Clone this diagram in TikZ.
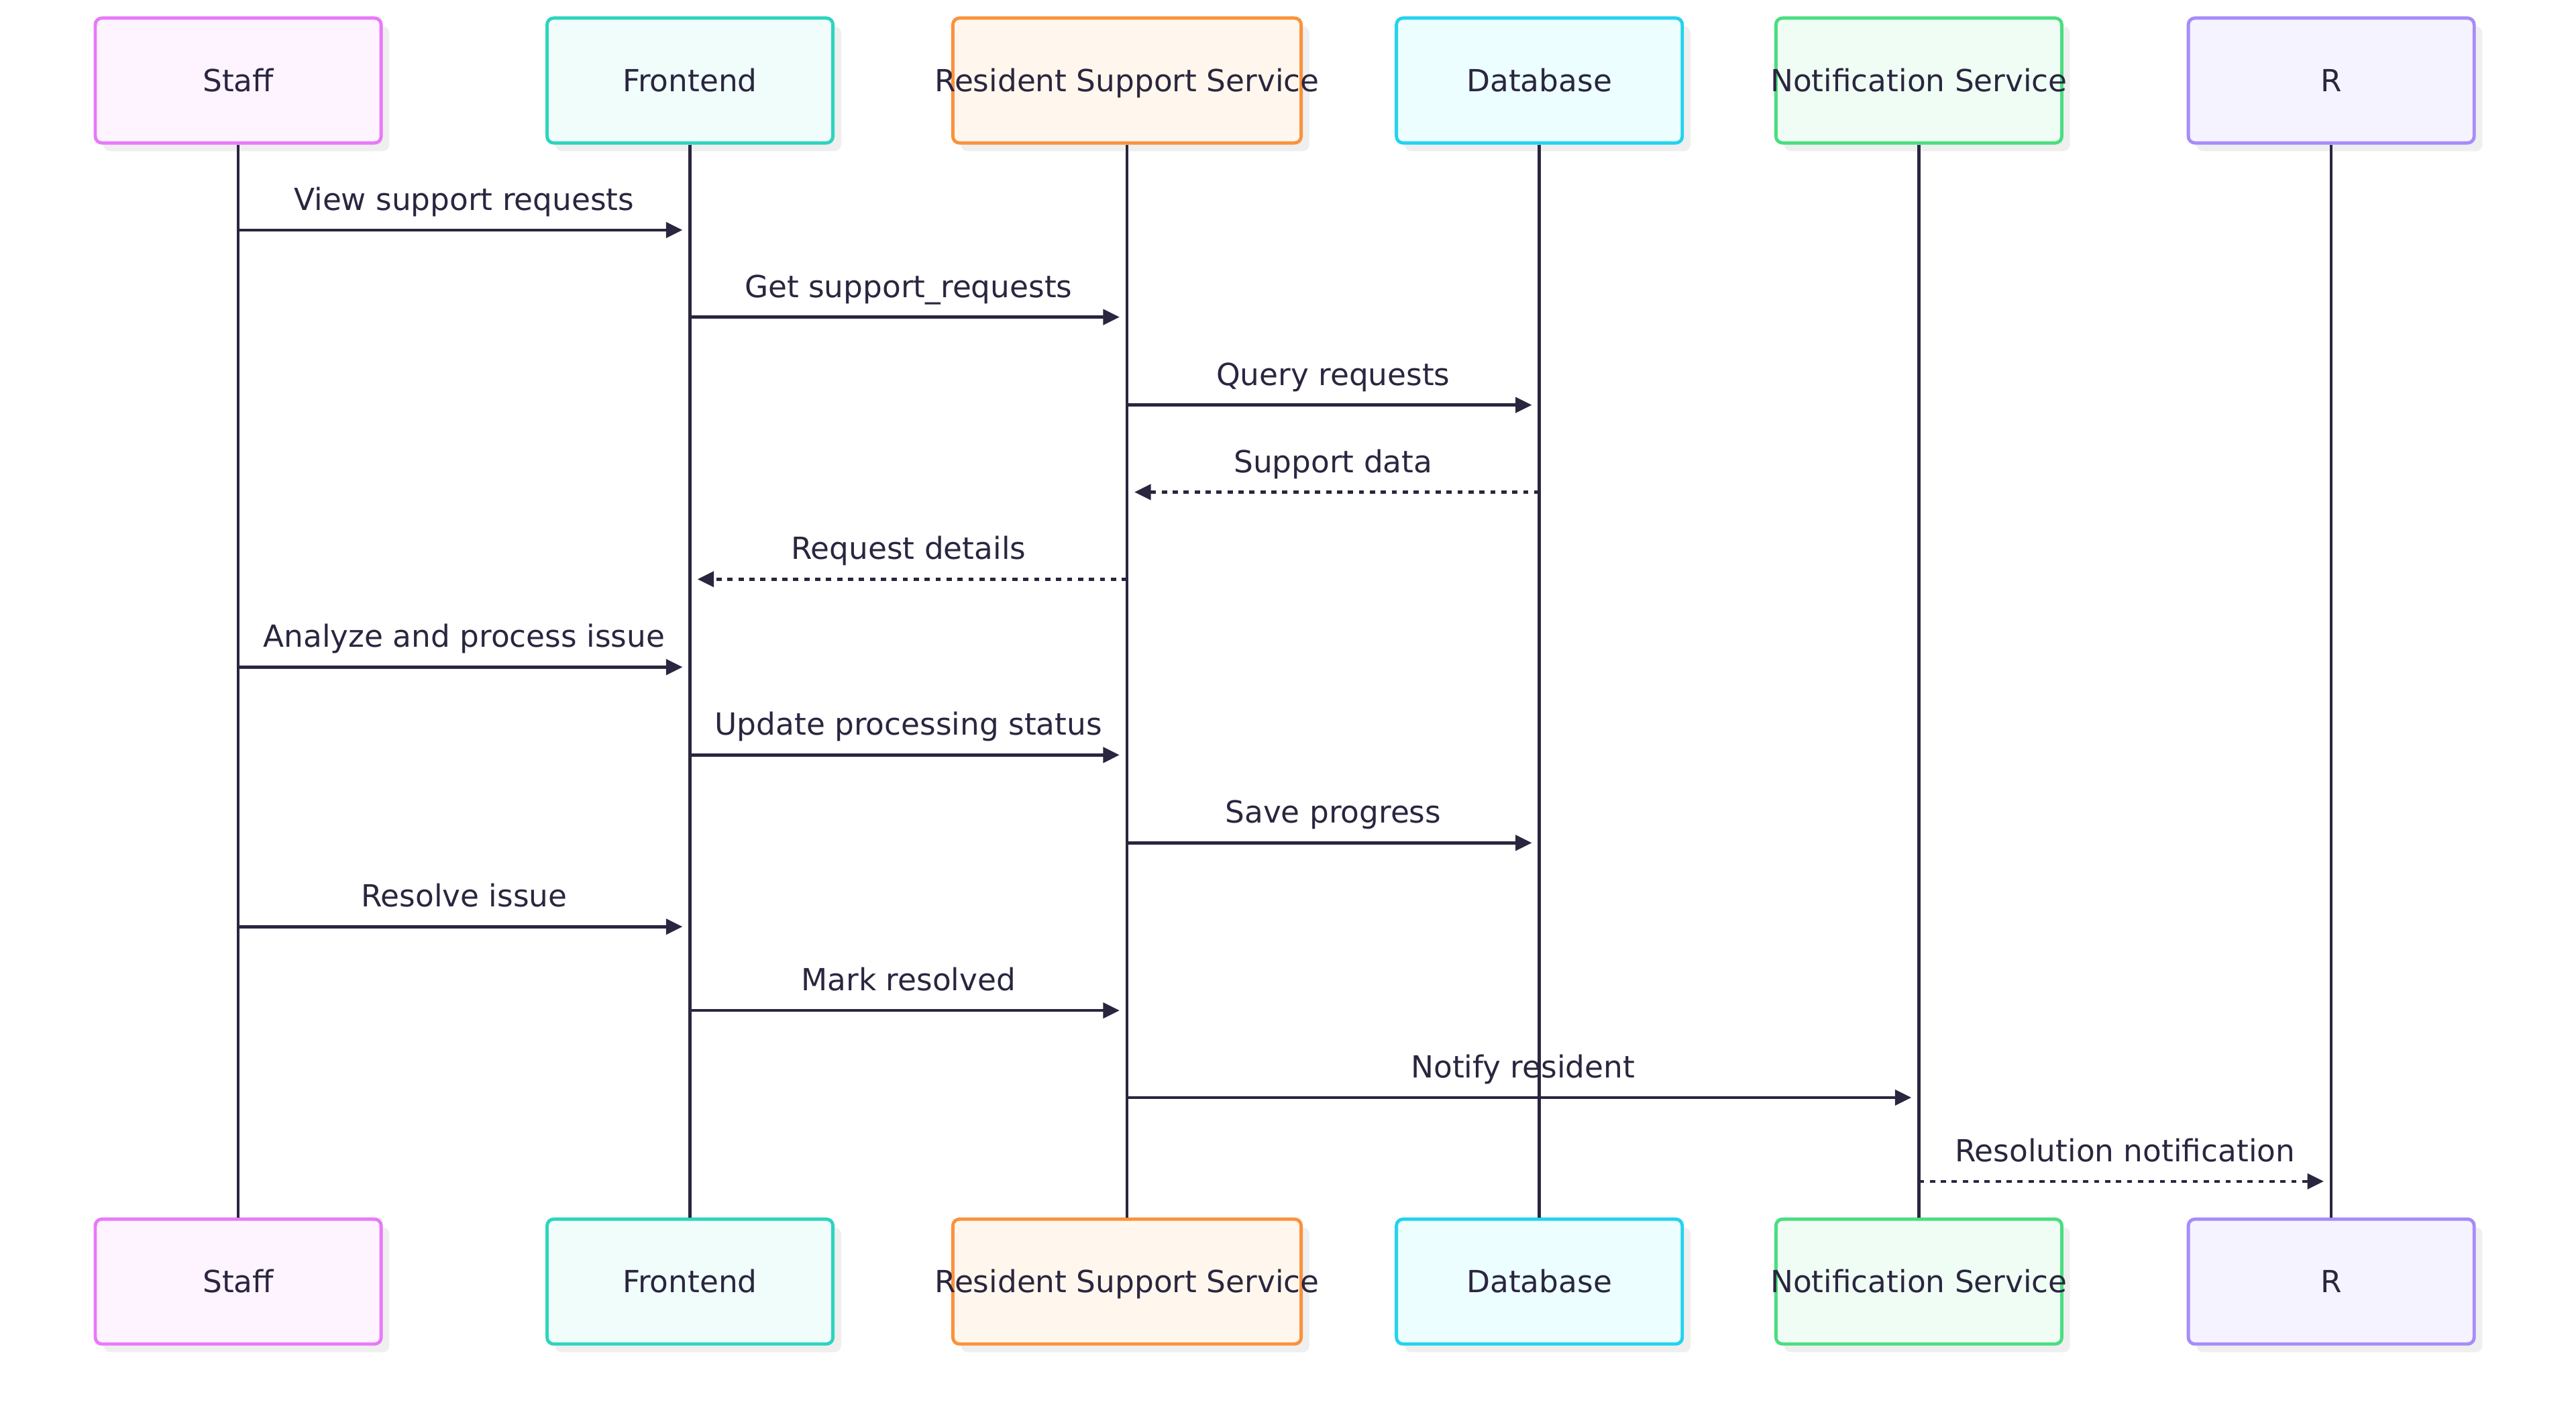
\documentclass[tikz,border=0pt]{standalone}
\usepackage{fontspec}
\setmainfont{DejaVu Sans}
\usetikzlibrary{arrows.meta, shadows}
\definecolor{ink}{HTML}{2A263F}
\definecolor{shadowgray}{HTML}{EFEFEF}
\definecolor{lnstaff}{HTML}{E879F9}\definecolor{bgstaff}{HTML}{FDF4FF}
\definecolor{lnfront}{HTML}{2DD4BF}\definecolor{bgfront}{HTML}{F0FDFA}
\definecolor{lnrss}{HTML}{FB923C}\definecolor{bgrss}{HTML}{FFF7ED}
\definecolor{lndb}{HTML}{22D3EE}\definecolor{bgdb}{HTML}{ECFEFF}
\definecolor{lnnotif}{HTML}{4ADE80}\definecolor{bgnotif}{HTML}{F0FDF4}
\definecolor{lnres}{HTML}{A78BFA}\definecolor{bgres}{HTML}{F5F3FF}
\newcommand{\mfont}{\fontsize{13.9pt}{16pt}\selectfont}
\tikzset{
  mactor/.style = {draw, rounded corners=3pt, line width=1.5pt, minimum width=130.5pt,
                   minimum height=57pt, inner sep=0pt, font=\mfont, text=ink,
                   text height=10.2pt, text depth=0pt,
                   drop shadow={shadow xshift=3.75pt, shadow yshift=-3.75pt, fill=shadowgray, opacity=1}},
  mlife/.style  = {draw=ink, line width=1.4pt},
  mcall/.style  = {draw=ink, line width=1.4pt, -{Triangle[length=7.5pt, width=7pt]}, shorten >=3.4pt},
  mreply/.style = {mcall, dash pattern=on 2.4pt off 2.6pt},        % a dotted answer
  mlabel/.style = {font=\mfont, text=ink, anchor=base, yshift=9pt, inner sep=0pt},
}

\begin{document}
\begin{tikzpicture}[x=0.75pt, y=-0.75pt]
  \useasboundingbox (0,0) rectangle (1568,867);
  % actors, top and bottom, with their lifelines
  \foreach \mname/\mx/\mw/\mtext in {staff/145/130.5/Staff, front/420/130.5/Frontend,
      rss/686/159/Resident Support Service, db/937/130.5/Database,
      notif/1168/130.5/Notification Service, res/1419/130.5/R} {
    \node[mactor, minimum width=\mw pt, draw=ln\mname, fill=bg\mname] (\mname-top) at (\mx, 49) {\makebox[0pt]{\mtext}};
    \node[mactor, minimum width=\mw pt, draw=ln\mname, fill=bg\mname] (\mname-bot) at (\mx, 780) {\makebox[0pt]{\mtext}};
    \draw[mlife] (\mname-top.south) -- (\mname-bot.north);
  }
  % messages
  \foreach \mfrom/\mto/\my/\mtxt/\mkind [count=\i] in {
      staff/front/140/View support requests/mcall,
      front/rss/193/Get support\_requests/mcall,
      rss/db/246.5/Query requests/mcall,
      db/rss/299.5/Support data/mreply,
      rss/front/352.5/Request details/mreply,
      staff/front/406/Analyze and process issue/mcall,
      front/rss/459.5/Update processing status/mcall,
      rss/db/513/Save progress/mcall,
      staff/front/564/Resolve issue/mcall,
      front/rss/615/Mark resolved/mcall,
      rss/notif/668/Notify resident/mcall,
      notif/res/719/Resolution notification/mreply} {
    \coordinate (m\i-a) at (\mfrom-top |- 0,\my);
    \coordinate (m\i-b) at (\mto-top |- 0,\my);
    \draw[\mkind] (m\i-a) -- (m\i-b) node[mlabel, midway] (l\i) {\mtxt};
  }
\end{tikzpicture}
\end{document}
